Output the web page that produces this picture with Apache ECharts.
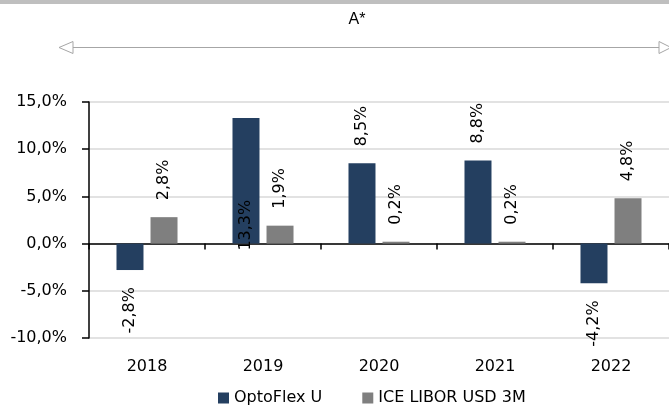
<!DOCTYPE html>
<html>
<head>
<meta charset="utf-8">
<script src="https://cdn.jsdelivr.net/npm/echarts@6/dist/echarts.min.js"></script>
<style>
html, body { margin: 0; padding: 0; background: #fff; }
#chart { width: 669px; height: 412px; }
</style>
</head>
<body>
<div id="chart"></div>
<script>
var years = ['2018', '2019', '2020', '2021', '2022'];
var optoflex = [-2.8, 13.3, 8.5, 8.8, -4.2];
var libor = [2.8, 1.9, 0.2, 0.2, 4.8];
var yTicks = { min: -10, max: 15, interval: 5 };

var font = 'DejaVu Sans';
var navy = '#243f60';
var grey = '#7f7f7f';

function pct(v) {
	return v.toFixed(1).replace('.', ',') + '%';
}

// labels above the bar end, below it for negatives
function barData(values, name) {
	return values.map(function (v) {
		var item = { value: v };
		if (v < 0) {
			item.label = { position: 'bottom', align: 'right' };
		}
		// the tall 2019 bar gets its label at the base, like the original
		if (name == 'OptoFlex U' && v > 12) {
			item.label = { position: 'insideBottom', align: 'left', distance: -7 };
		}
		return item;
	});
}

var labelStyle = {
	show: true,
	position: 'top',
	rotate: 90,
	align: 'left',
	verticalAlign: 'middle',
	distance: 17,
	color: '#000',
	fontFamily: font,
	fontSize: 16,
	formatter: function (p) { return pct(p.value); }
};

var myChart = echarts.init(document.getElementById('chart'));

var option = {
	backgroundColor: '#fff',
	animation: false,
	graphic: [
		{ type: 'rect', shape: { x: 0, y: 0, width: 669, height: 4 }, style: { fill: '#bfbfbf' } },
		{ type: 'text', x: 357, y: 20, style: { text: 'A*', font: '16px "Liberation Sans"', fill: '#000', textAlign: 'center', textVerticalAlign: 'middle' } },
		{ type: 'line', shape: { x1: 73, y1: 47.5, x2: 659, y2: 47.5 }, style: { stroke: '#a6a6a6', lineWidth: 1 } },
		{ type: 'polygon', shape: { points: [[59, 47.5], [73, 41.5], [73, 53.5]] }, style: { fill: '#fff', stroke: '#a6a6a6', lineWidth: 1 } },
		{ type: 'polygon', shape: { points: [[671, 47.5], [659, 41.5], [659, 53.5]] }, style: { fill: '#fff', stroke: '#a6a6a6', lineWidth: 1 } }
	],
	legend: {
		left: 213,
		top: 385,
		icon: 'rect',
		itemWidth: 11,
		itemHeight: 11,
		itemGap: 40,
		textStyle: { fontFamily: font, fontSize: 16, color: '#000' },
		data: ['OptoFlex U', 'ICE LIBOR USD 3M']
	},
	grid: { left: 89, top: 102, width: 586, height: 236 },
	xAxis: [
		{
			type: 'category',
			data: years,
			position: 'bottom',
			axisLine: { show: false, onZero: false },
			axisTick: { show: false },
			axisLabel: { margin: 21, color: '#000', fontFamily: font, fontSize: 16 }
		},
		{
			type: 'category',
			data: years,
			position: 'bottom',
			axisLine: { show: true, onZero: true, lineStyle: { color: '#000', width: 1.5 } },
			axisTick: { show: true, length: 6, lineStyle: { color: '#000', width: 1.5 } },
			axisLabel: { show: false }
		}
	],
	yAxis: {
		type: 'value',
		min: yTicks.min,
		max: yTicks.max,
		interval: yTicks.interval,
		axisLine: { show: true, lineStyle: { color: '#000', width: 1.5 } },
		axisTick: { show: true, length: 7, lineStyle: { color: '#000', width: 1.5 } },
		axisLabel: {
			margin: 22,
			color: '#000',
			fontFamily: font,
			fontSize: 16,
			formatter: function (v) { return pct(v); }
		},
		splitLine: { lineStyle: { color: '#d9d9d9', width: 1.5 } }
	},
	series: [
		{
			name: 'OptoFlex U',
			type: 'bar',
			xAxisIndex: 0,
			barWidth: 27,
			barGap: '26%',
			itemStyle: { color: navy },
			label: labelStyle,
			data: barData(optoflex, 'OptoFlex U')
		},
		{
			name: 'ICE LIBOR USD 3M',
			type: 'bar',
			xAxisIndex: 0,
			barWidth: 27,
			barGap: '26%',
			itemStyle: { color: grey },
			label: labelStyle,
			data: barData(libor, 'ICE LIBOR USD 3M')
		}
	]
};

myChart.setOption(option);
</script>
</body>
</html>
